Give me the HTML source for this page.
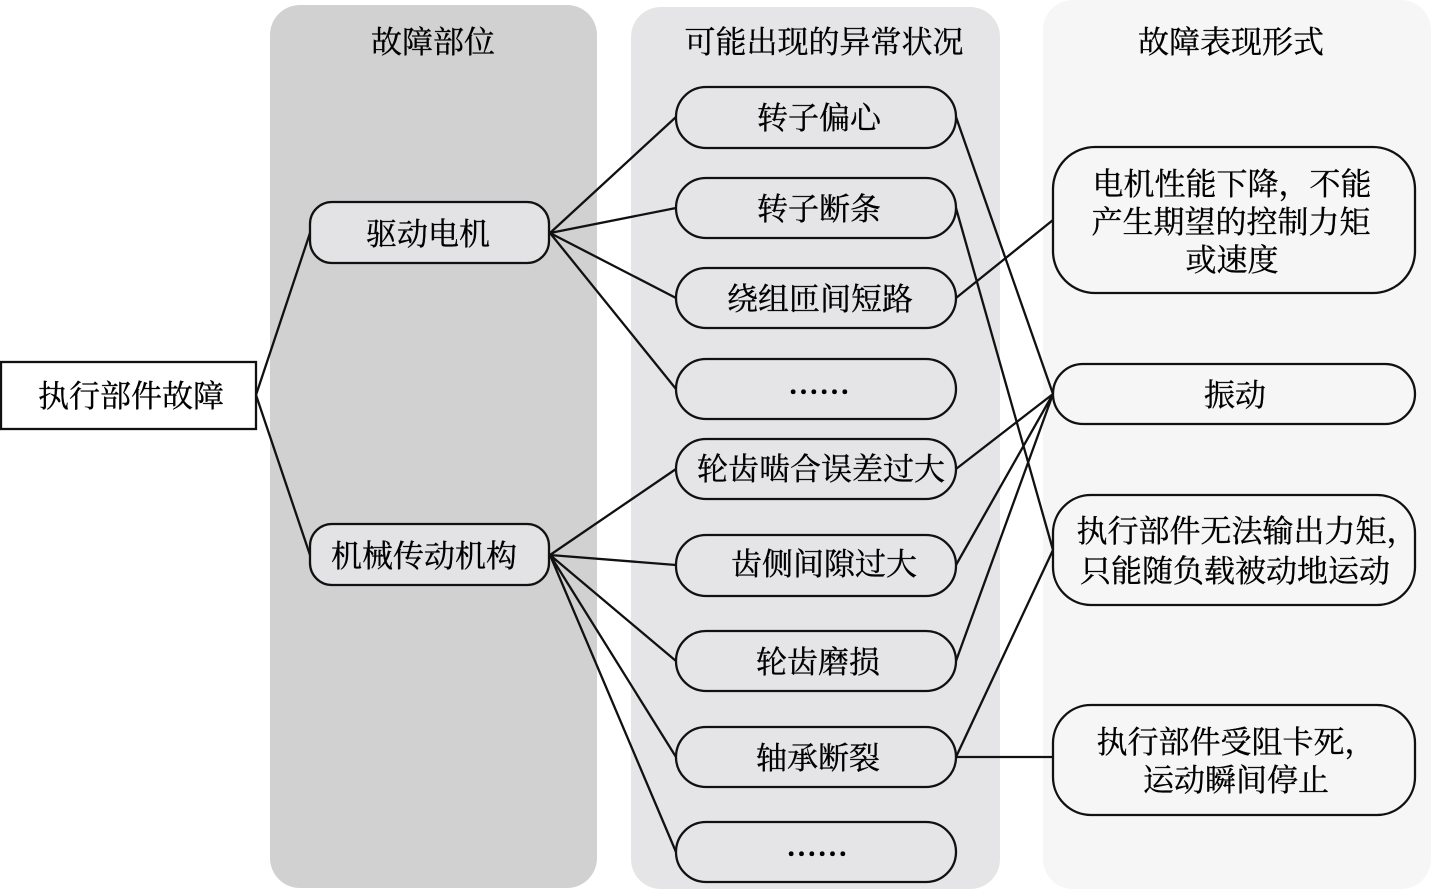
<!DOCTYPE html>
<html><head><meta charset="utf-8">
<style>
html,body{margin:0;padding:0;background:#fff;}
svg{display:block;}
text{font-family:"Noto Serif CJK SC","Liberation Serif",serif;font-size:31px;fill:#000;stroke:#000;stroke-width:.35;text-anchor:middle;}
text.d{stroke-width:1.3;}
.n{fill:none;stroke:#111;stroke-width:2.3;}
.l{stroke:#111;stroke-width:2.3;fill:none;}
</style></head><body>
<svg width="1431" height="889" viewBox="0 0 1431 889" xmlns="http://www.w3.org/2000/svg">
<rect x="270" y="5" width="327" height="883" rx="30" fill="#d1d1d2"/>
<rect x="631" y="7" width="369" height="882" rx="30" fill="#e5e5e7"/>
<rect x="1043" y="0" width="388" height="889" rx="30" fill="#f6f6f6"/>
<g class="l">
<path d="M256 395L310 233M256 395L310 555"/>
<path d="M550 233L676 117M550 233L676 208M550 233L676 298M550 233L676 389"/>
<path d="M550 555L676 469M550 555L676 565M550 555L676 661M550 555L676 757M550 555L676 852"/>
<path d="M956 117L1053 394M956 208L1053 550M956 298L1053 220M956 469L1053 394M956 565L1053 394M956 661L1053 394M956 757L1053 550M956 757H1053"/>
</g>
<rect x="1" y="362" width="255" height="67" fill="#fff" class="n"/>
<g fill="#e5e5e7" stroke="#111" stroke-width="2.3">
<rect x="310" y="202" width="239" height="61" rx="22" fill="#e3e3e5"/>
<rect x="310" y="524" width="239" height="61" rx="22" fill="#e3e3e5"/>
<rect x="676" y="87" width="280" height="61" rx="30"/>
<rect x="676" y="178" width="280" height="60" rx="30"/>
<rect x="676" y="268" width="280" height="60" rx="30"/>
<rect x="676" y="359" width="280" height="60" rx="30"/>
<rect x="676" y="439" width="280" height="60" rx="30"/>
<rect x="676" y="535" width="280" height="61" rx="30"/>
<rect x="676" y="631" width="280" height="60" rx="30"/>
<rect x="676" y="727" width="280" height="60" rx="30"/>
<rect x="676" y="822" width="280" height="60" rx="30"/>
</g>
<g fill="#f6f6f6" stroke="#111" stroke-width="2.3">
<rect x="1053" y="147" width="362" height="146" rx="42"/>
<rect x="1053" y="364" width="362" height="60" rx="30"/>
<rect x="1053" y="495" width="362" height="110" rx="38"/>
<rect x="1053" y="705" width="362" height="110" rx="38"/>
</g>
<text x="433" y="53">故障部位</text>
<text x="824" y="53">可能出现的异常状况</text>
<text x="1231" y="53">故障表现形式</text>
<text x="131" y="407">执行部件故障</text>
<text x="428" y="245">驱动电机</text>
<text x="424" y="567">机械传动机构</text>
<text x="819" y="129">转子偏心</text>
<text x="819" y="220">转子断条</text>
<text x="820" y="310">绕组匝间短路</text>
<text class="d" x="819" y="404">……</text>
<text x="821" y="480">轮齿啮合误差过大</text>
<text x="824" y="575">齿侧间隙过大</text>
<text x="818" y="673">轮齿磨损</text>
<text x="818" y="769">轴承断裂</text>
<text class="d" x="817" y="866">……</text>
<text x="1232" y="195">电机性能下降，不能</text>
<text x="1231" y="233">产生期望的控制力矩</text>
<text x="1232" y="271">或速度</text>
<text x="1235" y="406">振动</text>
<text x="1247" y="542">执行部件无法输出力矩，</text>
<text x="1235" y="582">只能随负载被动地运动</text>
<text x="1236" y="753">执行部件受阻卡死，</text>
<text x="1236" y="791">运动瞬间停止</text>
</svg>
</body></html>
